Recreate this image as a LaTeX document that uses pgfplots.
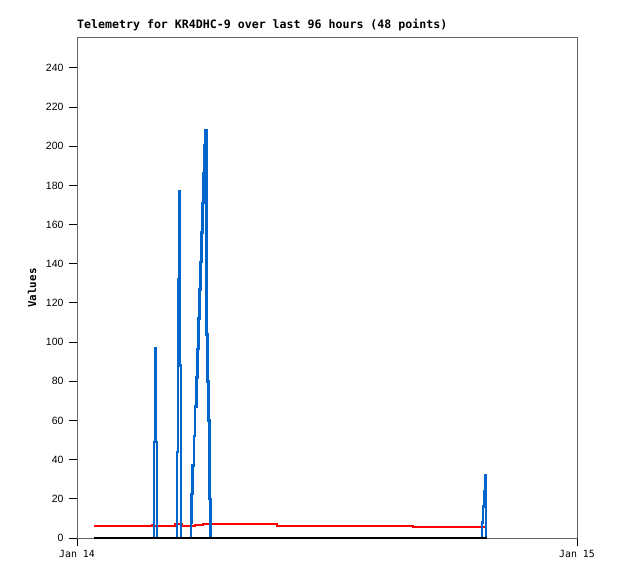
\documentclass[border=0pt]{standalone}
\usepackage{fontspec}
\setmainfont{Liberation Sans}
\newfontfamily\monofont{DejaVu Sans Mono}
\newfontfamily\dvmono{DejaVu Sans Mono}
\usepackage{pgfplots}
\pgfplotsset{compat=1.18}
\definecolor{tblue}{RGB}{0,102,204}
\definecolor{tred}{RGB}{255,0,0}
\definecolor{framegray}{RGB}{100,100,100}
\begin{document}
\begin{tikzpicture}[x=1pt,y=1pt]
\useasboundingbox (0,0) rectangle (618,579);
\begin{axis}[
  at={(77pt,41pt)}, anchor=south west,
  scale only axis, width=500pt, height=500pt,
  xmin=0, xmax=24, ymin=0, ymax=255.3,
  xtick={0,24}, xticklabels={Jan 14, Jan 15},
  ytick={0,20,...,240},
  xtick pos=bottom, ytick pos=left,
  tick align=outside, major tick length=7.5pt,
  axis line style={framegray, line width=1pt},
  tick style={black, line width=1pt},
  /pgf/number format/assume math mode=true,
  yticklabel style={font=\fontsize{10.5}{12}\selectfont, xshift=-2.5pt},
  xticklabel style={font=\dvmono\fontsize{9.9}{11}\selectfont, yshift=-1pt},
  ylabel={\bfseries Values},
  ylabel style={at={(axis description cs:-0.09,0.5)}, anchor=center, font=\monofont\fontsize{10.8}{12}\selectfont},
  title={\bfseries Telemetry for KR4DHC-9 over last 96 hours (48 points)},
  title style={at={(axis description cs:0,1)}, anchor=base west, inner sep=0pt, yshift=3pt, font=\monofont\fontsize{11.6}{13}\selectfont},
  clip=false,
]
% red series
\addplot[tred, line width=2pt, line join=miter] coordinates {
(0.816,5.9)(3.600,5.9)(3.600,6.8)(3.696,6.8)(3.696,5.9)(4.320,5.9)(4.320,6.3)(4.704,6.3)(4.704,7.0)(5.040,7.0)(5.040,6.0)(5.664,6.0)(5.664,6.4)(6.048,6.4)(6.048,6.9)(9.600,6.9)(9.600,6.3)(16.128,6.3)(16.128,5.7)(19.680,5.7)
};
% blue series
\addplot[tblue, line width=2.6pt, line join=miter] coordinates {
(3.696,0)(3.696,49)(3.744,49)(3.744,97)(3.792,97)(3.792,49)(3.840,49)(3.840,0)
};
\addplot[tblue, line width=2.6pt, line join=miter] coordinates {
(4.800,0)(4.800,44)(4.848,44)(4.848,132)(4.896,132)(4.896,177)(4.944,177)(4.944,88)(4.992,88)(4.992,0)
};
\addplot[tblue, line width=2.6pt, line join=miter] coordinates {
(5.472,0)(5.472,7.7)(5.506,7.7)(5.506,22.5)(5.554,22.5)(5.554,37)(5.616,37)(5.616,52)(5.664,52)(5.664,67)(5.736,67)(5.736,82)(5.774,82)(5.774,96.5)(5.822,96.5)(5.822,112)(5.880,112)(5.880,127)(5.928,127)(5.928,141)(5.976,141)(5.976,156)(6.024,156)(6.024,171)(6.072,171)(6.072,186)(6.120,186)(6.120,200.7)(6.168,200.7)(6.168,208)(6.216,208)(6.216,104)(6.264,104)(6.264,80)(6.312,80)(6.312,60)(6.360,60)(6.360,20)(6.408,20)(6.408,0)
};
\addplot[tblue, line width=2.6pt, line join=miter] coordinates {
(19.440,0)(19.440,8)(19.488,8)(19.488,16)(19.536,16)(19.536,24)(19.584,24)(19.584,32)(19.632,32)(19.632,0)
};
% black series
\addplot[black, line width=2pt] coordinates {(0.816,0)(19.680,0)};
\end{axis}
\end{tikzpicture}
\end{document}
